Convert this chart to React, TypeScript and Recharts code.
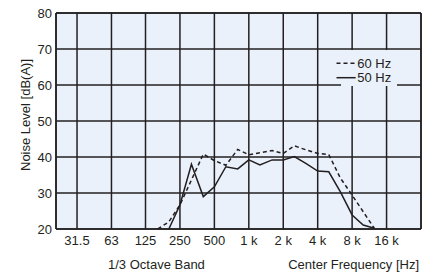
import { CartesianGrid, Label, Legend, Line, LineChart, ReferenceLine, XAxis, YAxis } from "recharts";

// 1/3 octave band centre frequencies that carry a reading
const bandHz = [160, 200, 250, 315, 400, 500, 630, 800, 1000, 1250, 1600, 2000, 2500, 3150, 4000, 5000, 6300, 8000, 10000, 12500];
const level60Hz = [20, 22, 26.7, 33.6, 40.8, 39, 37.7, 42.1, 40.6, 41.2, 41.8, 41, 43.1, 42, 41, 40.7, 34.2, 29.4, 24.8, 20.2];
const level50Hz = [null, 20, 26.7, 38, 29, 31.7, 37.3, 36.7, 39.2, 37.8, 39.2, 39.2, 40.1, 38.2, 36.1, 35.9, 30.4, 23.9, 21.1, 20.2];

const tickHz = [31.5, 63, 125, 250, 500, 1000, 2000, 4000, 8000, 16000];
const tickText = ["31.5", "63", "125", "250", "500", "1 k", "2 k", "4 k", "8 k", "16 k"];
const levelTicks = [20, 30, 40, 50, 60, 70, 80];

const series = [
  { key: "hz60", name: "60 Hz", dash: "4 3" },
  { key: "hz50", name: "50 Hz", dash: undefined as string | undefined },
];

const data = bandHz.map((hz, i) => ({ hz, hz60: level60Hz[i], hz50: level50Hz[i] }));

const FONT = "'Liberation Sans', Arial, sans-serif";
const FS = 13;
const PLOT_BG = "#eaf1fb";
const GRID = "#231f20";
const INK = "#231f20";

function LegendBox({ payload }: any) {
  const items = series.filter((s) => (payload ?? []).some((p: any) => p.value === s.name));
  return (
    <svg width={70} height={40} style={{ overflow: "visible", display: "block" }}>
      <rect x={7} y={2} width={56} height={36} fill={PLOT_BG} />
      {items.map((s, i) => {
        const y = 15.3 + i * 14.4;
        return (
          <g key={s.key}>
            <line x1={2.5} x2={21.7} y1={y} y2={y} stroke={INK} strokeWidth={1.5} strokeDasharray={s.dash} />
            <text x={23.3} y={y + 4.6} fontSize={FS} fontFamily={FONT} fill={INK}>
              {s.name}
            </text>
          </g>
        );
      })}
    </svg>
  );
}

export default function App() {
  return (
    <div style={{ position: "absolute", left: 0, top: 0 }}>
      <LineChart width={431} height={276} data={data} margin={{ top: 13, right: 10, bottom: 7, left: 0 }}>
        <CartesianGrid fill={PLOT_BG} fillOpacity={1} stroke={GRID} strokeWidth={1.5} />
        <XAxis
          dataKey="hz"
          type="number"
          scale="log"
          domain={[20.63, 32000]}
          allowDataOverflow
          ticks={tickHz}
          interval={0}
          tickFormatter={(v: number) => tickText[tickHz.indexOf(v)] ?? String(v)}
          tickLine={false}
          tickSize={0}
          tickMargin={7}
          height={40}
          axisLine={{ stroke: GRID, strokeWidth: 1.5 }}
          tick={{ fill: INK, fontSize: FS, fontFamily: FONT }}
        >
          <Label
            content={() => (
              <g fontFamily={FONT} fontSize={FS} fill={INK}>
                <text x={108} y={269} textAnchor="start">1/3 Octave Band</text>
                <text x={419} y={269} textAnchor="end">Center Frequency [Hz]</text>
              </g>
            )}
          />
        </XAxis>
        <YAxis
          type="number"
          domain={[20, 80]}
          ticks={levelTicks}
          interval={0}
          width={56}
          tickLine={false}
          tickSize={0}
          tickMargin={4}
          axisLine={{ stroke: GRID, strokeWidth: 1.5 }}
          tick={{ fill: INK, fontSize: FS, fontFamily: FONT }}
        >
          <Label
            content={() => (
              <text
                transform="translate(25,115) rotate(-90)"
                textAnchor="middle"
                dominantBaseline="central"
                fontFamily={FONT}
                fontSize={FS}
                fill={INK}
              >
                Noise Level [dB(A)]
              </text>
            )}
          />
        </YAxis>
        <ReferenceLine x={32000} stroke={GRID} strokeWidth={1.5} />
        <ReferenceLine y={80} stroke={GRID} strokeWidth={1.5} />
        <Legend
          layout="vertical"
          align="center"
          verticalAlign="middle"
          content={<LegendBox />}
          wrapperStyle={{ left: 334, top: 48, width: 70, height: 40 }}
        />
        {series.map((s) => (
          <Line
            key={s.key}
            dataKey={s.key}
            name={s.name}
            type="linear"
            stroke={INK}
            strokeWidth={1.5}
            strokeDasharray={s.dash}
            dot={false}
            activeDot={false}
            isAnimationActive={false}
          />
        ))}
      </LineChart>
    </div>
  );
}
